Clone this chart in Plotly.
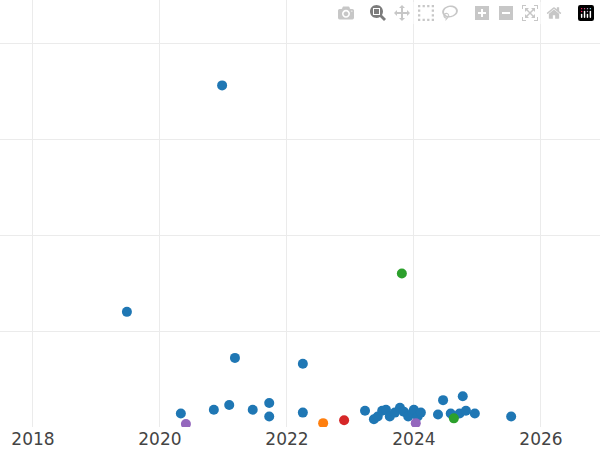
import plotly.graph_objects as go
from datetime import datetime, timedelta

blue_x = [2019.48, 2020.98, 2021.18, 2022.25, 2020.33, 2020.85, 2021.09, 2021.46, 2021.72, 2021.72,
          2022.25, 2023.23, 2023.37, 2023.43, 2023.50, 2023.56, 2023.62, 2023.70, 2023.78, 2023.84,
          2023.91, 2023.98, 2024.00, 2024.06, 2024.11, 2024.38, 2024.46, 2024.58, 2024.72, 2024.77,
          2024.82, 2024.96, 2025.53]
blue_y = [1.20, 3.56, 0.72, 0.66, 0.14, 0.18, 0.23, 0.18, 0.25, 0.11,
          0.15, 0.17, 0.08, 0.11, 0.17, 0.18, 0.11, 0.15, 0.20, 0.16,
          0.11, 0.15, 0.18, 0.11, 0.15, 0.13, 0.28, 0.14, 0.14, 0.32,
          0.17, 0.14, 0.11]
green_x = [2023.81, 2024.63]
green_y = [1.60, 0.09]
orange_x = [2022.57]
orange_y = [0.04]
red_x = [2022.90]
red_y = [0.07]
purple_x = [2020.41, 2024.03]
purple_y = [0.03, 0.04]


def to_date(y):
    year = int(y)
    start = datetime(year, 1, 1)
    return start + timedelta(days=(y - year) * 365.25)


fig = go.Figure()
for xs, ys, c in [(blue_x, blue_y, "#1f77b4"), (green_x, green_y, "#2ca02c"),
                  (orange_x, orange_y, "#ff7f0e"), (red_x, red_y, "#d62728"),
                  (purple_x, purple_y, "#9467bd")]:
    fig.add_trace(go.Scatter(x=[to_date(v) for v in xs], y=ys, mode="markers",
                             marker=dict(color=c, size=10), showlegend=False))

fig.update_layout(
    width=600, height=450,
    margin=dict(l=0, r=0, t=0, b=23),
    plot_bgcolor="white", paper_bgcolor="white",
    font=dict(family="DejaVu Sans", size=17, color="#444"),
)
fig.update_xaxes(range=[to_date(2017.48), to_date(2026.93)], dtick="M24",
                 tick0="2018-01-01", tickformat="%Y", showgrid=True,
                 gridcolor="#ebebeb", zeroline=False)
fig.update_yaxes(range=[0, 4.45], dtick=1, showgrid=True, gridcolor="#ebebeb",
                 showticklabels=False, zeroline=False)
fig.write_html("out.html", post_script="document.body.style.margin='0';")
